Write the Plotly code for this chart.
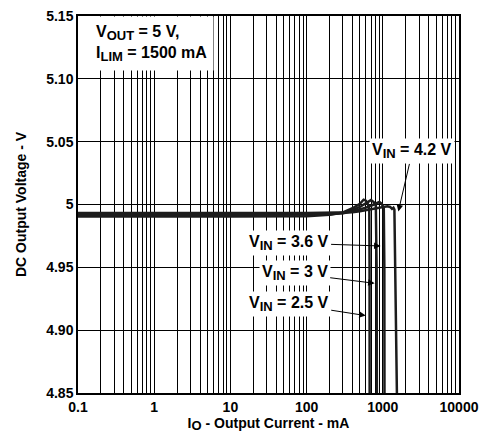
import math
import plotly.graph_objects as go

# Output current (mA) and DC output voltage (V) for each input voltage
i_25 = [0.1, 0.3, 1, 3, 10, 30, 100, 200, 300, 400, 500, 560, 600, 640, 665, 670, 672]
v_25 = [4.9904, 4.9906, 4.9903, 4.9905, 4.9904, 4.9906, 4.9907, 4.9918, 4.9937, 4.997, 5.0005, 5.0038, 5.003, 5.000, 4.996, 4.95, 4.85]

i_30 = [0.1, 0.3, 1, 3, 10, 30, 100, 200, 300, 400, 500, 600, 700, 760, 810, 830, 836]
v_30 = [4.9914, 4.9915, 4.9913, 4.9915, 4.9914, 4.9915, 4.9916, 4.9921, 4.9933, 4.9955, 4.998, 5.001, 5.0035, 5.002, 4.999, 4.95, 4.85]

i_36 = [0.1, 0.3, 1, 3, 10, 30, 100, 200, 300, 400, 500, 600, 700, 800, 900, 970, 1030, 1048, 1052]
v_36 = [4.9924, 4.9923, 4.9925, 4.9923, 4.9924, 4.9924, 4.9924, 4.9925, 4.9931, 4.9945, 4.996, 4.9975, 4.999, 5.0005, 5.002, 5.0005, 4.997, 4.95, 4.85]

i_42 = [0.1, 0.3, 1, 3, 10, 30, 100, 200, 300, 400, 500, 600, 700, 800, 1000, 1150, 1250, 1320, 1380, 1420, 1531]
v_42 = [4.9933, 4.9932, 4.9933, 4.9932, 4.9933, 4.9933, 4.9933, 4.9933, 4.9934, 4.9938, 4.9946, 4.9955, 4.9962, 4.997, 4.998, 4.9985, 4.998, 4.9965, 4.9975, 4.996, 4.85]

series = [(i_25, v_25), (i_30, v_30), (i_36, v_36), (i_42, v_42)]

x_ticks = [0.1, 1, 10, 100, 1000, 10000]
x_ticktext = ["0.1", "1", "10", "100", "1000", "10000"]
x_minor = [m * 10 ** e for e in range(-1, 4) for m in range(2, 10)]
y_ticks = [4.85, 4.90, 4.95, 5.00, 5.05, 5.10, 5.15]
y_ticktext = ["4.85", "4.90", "4.95", "5", "5.05", "5.10", "5.15"]


def sub(s):
    return '<sub><span style="font-size:13px">' + s + '</span></sub>'


# curve labels: text, arrow-head current (mA), arrow-head voltage (V), text offset (px)
curve_labels = [
    ("V" + sub("IN") + " = 4.2 V", 1600, 4.9945, 14, -60),
    ("V" + sub("IN") + " = 3.6 V", 935, 4.967, -92, -3),
    ("V" + sub("IN") + " = 3 V", 782, 4.9373, -80, -10),
    ("V" + sub("IN") + " = 2.5 V", 597, 4.9116, -77, -12),
]

fig = go.Figure()
for xs, ys in series:
    fig.add_trace(go.Scatter(x=xs, y=ys, mode="lines",
                             line=dict(color="#1c1c1c", width=2.5),
                             showlegend=False, hoverinfo="skip"))

fnt = dict(family="Liberation Sans, Arial, sans-serif", color="black", weight="bold")

fig.update_layout(
    width=487, height=438,
    margin=dict(l=78, r=25, t=8, b=45),
    paper_bgcolor="white", plot_bgcolor="white",
    font=dict(**fnt, size=14),
    xaxis=dict(type="log", range=[-1, 4], tickvals=x_ticks, ticktext=x_ticktext,
               showgrid=True, gridcolor="black", gridwidth=1,
               minor=dict(tickvals=x_minor, showgrid=True, gridcolor="black", gridwidth=1, ticks=""),
               showline=True, linecolor="black", linewidth=1.5, mirror=True,
               ticks="", zeroline=False, ticklabelstandoff=0,
               tickfont=dict(**fnt, size=14),
               title=dict(text="I" + sub("O") + " - Output Current - mA", font=dict(**fnt, size=14), standoff=0)),
    yaxis=dict(range=[4.85, 5.15], tickvals=y_ticks, ticktext=y_ticktext,
               showgrid=True, gridcolor="black", gridwidth=1,
               showline=True, linecolor="black", linewidth=1.5, mirror=True,
               ticks="", zeroline=False,
               tickfont=dict(**fnt, size=14),
               title=dict(text="DC Output Voltage - V", font=dict(**fnt, size=14), standoff=16)),
)

ann_font = dict(**fnt, size=16)
fig.add_annotation(xref="paper", yref="paper", x=0.03, y=1.0, xanchor="left", yanchor="top",
                   text="V" + sub("OUT") + " = 5 V,<br>I" + sub("LIM") + " = 1500 mA", align="left",
                   showarrow=False, bgcolor="white", font=ann_font, borderpad=6)

for text, xa, ya, dx, dy in curve_labels:
    fig.add_annotation(x=math.log10(xa), y=ya, xref="x", yref="y",
                       text=text, showarrow=True, arrowhead=2, arrowsize=1.3, arrowwidth=1,
                       arrowcolor="black", ax=dx, ay=dy,
                       bgcolor="white", font=ann_font, borderpad=2)

fig.write_html("out.html")
